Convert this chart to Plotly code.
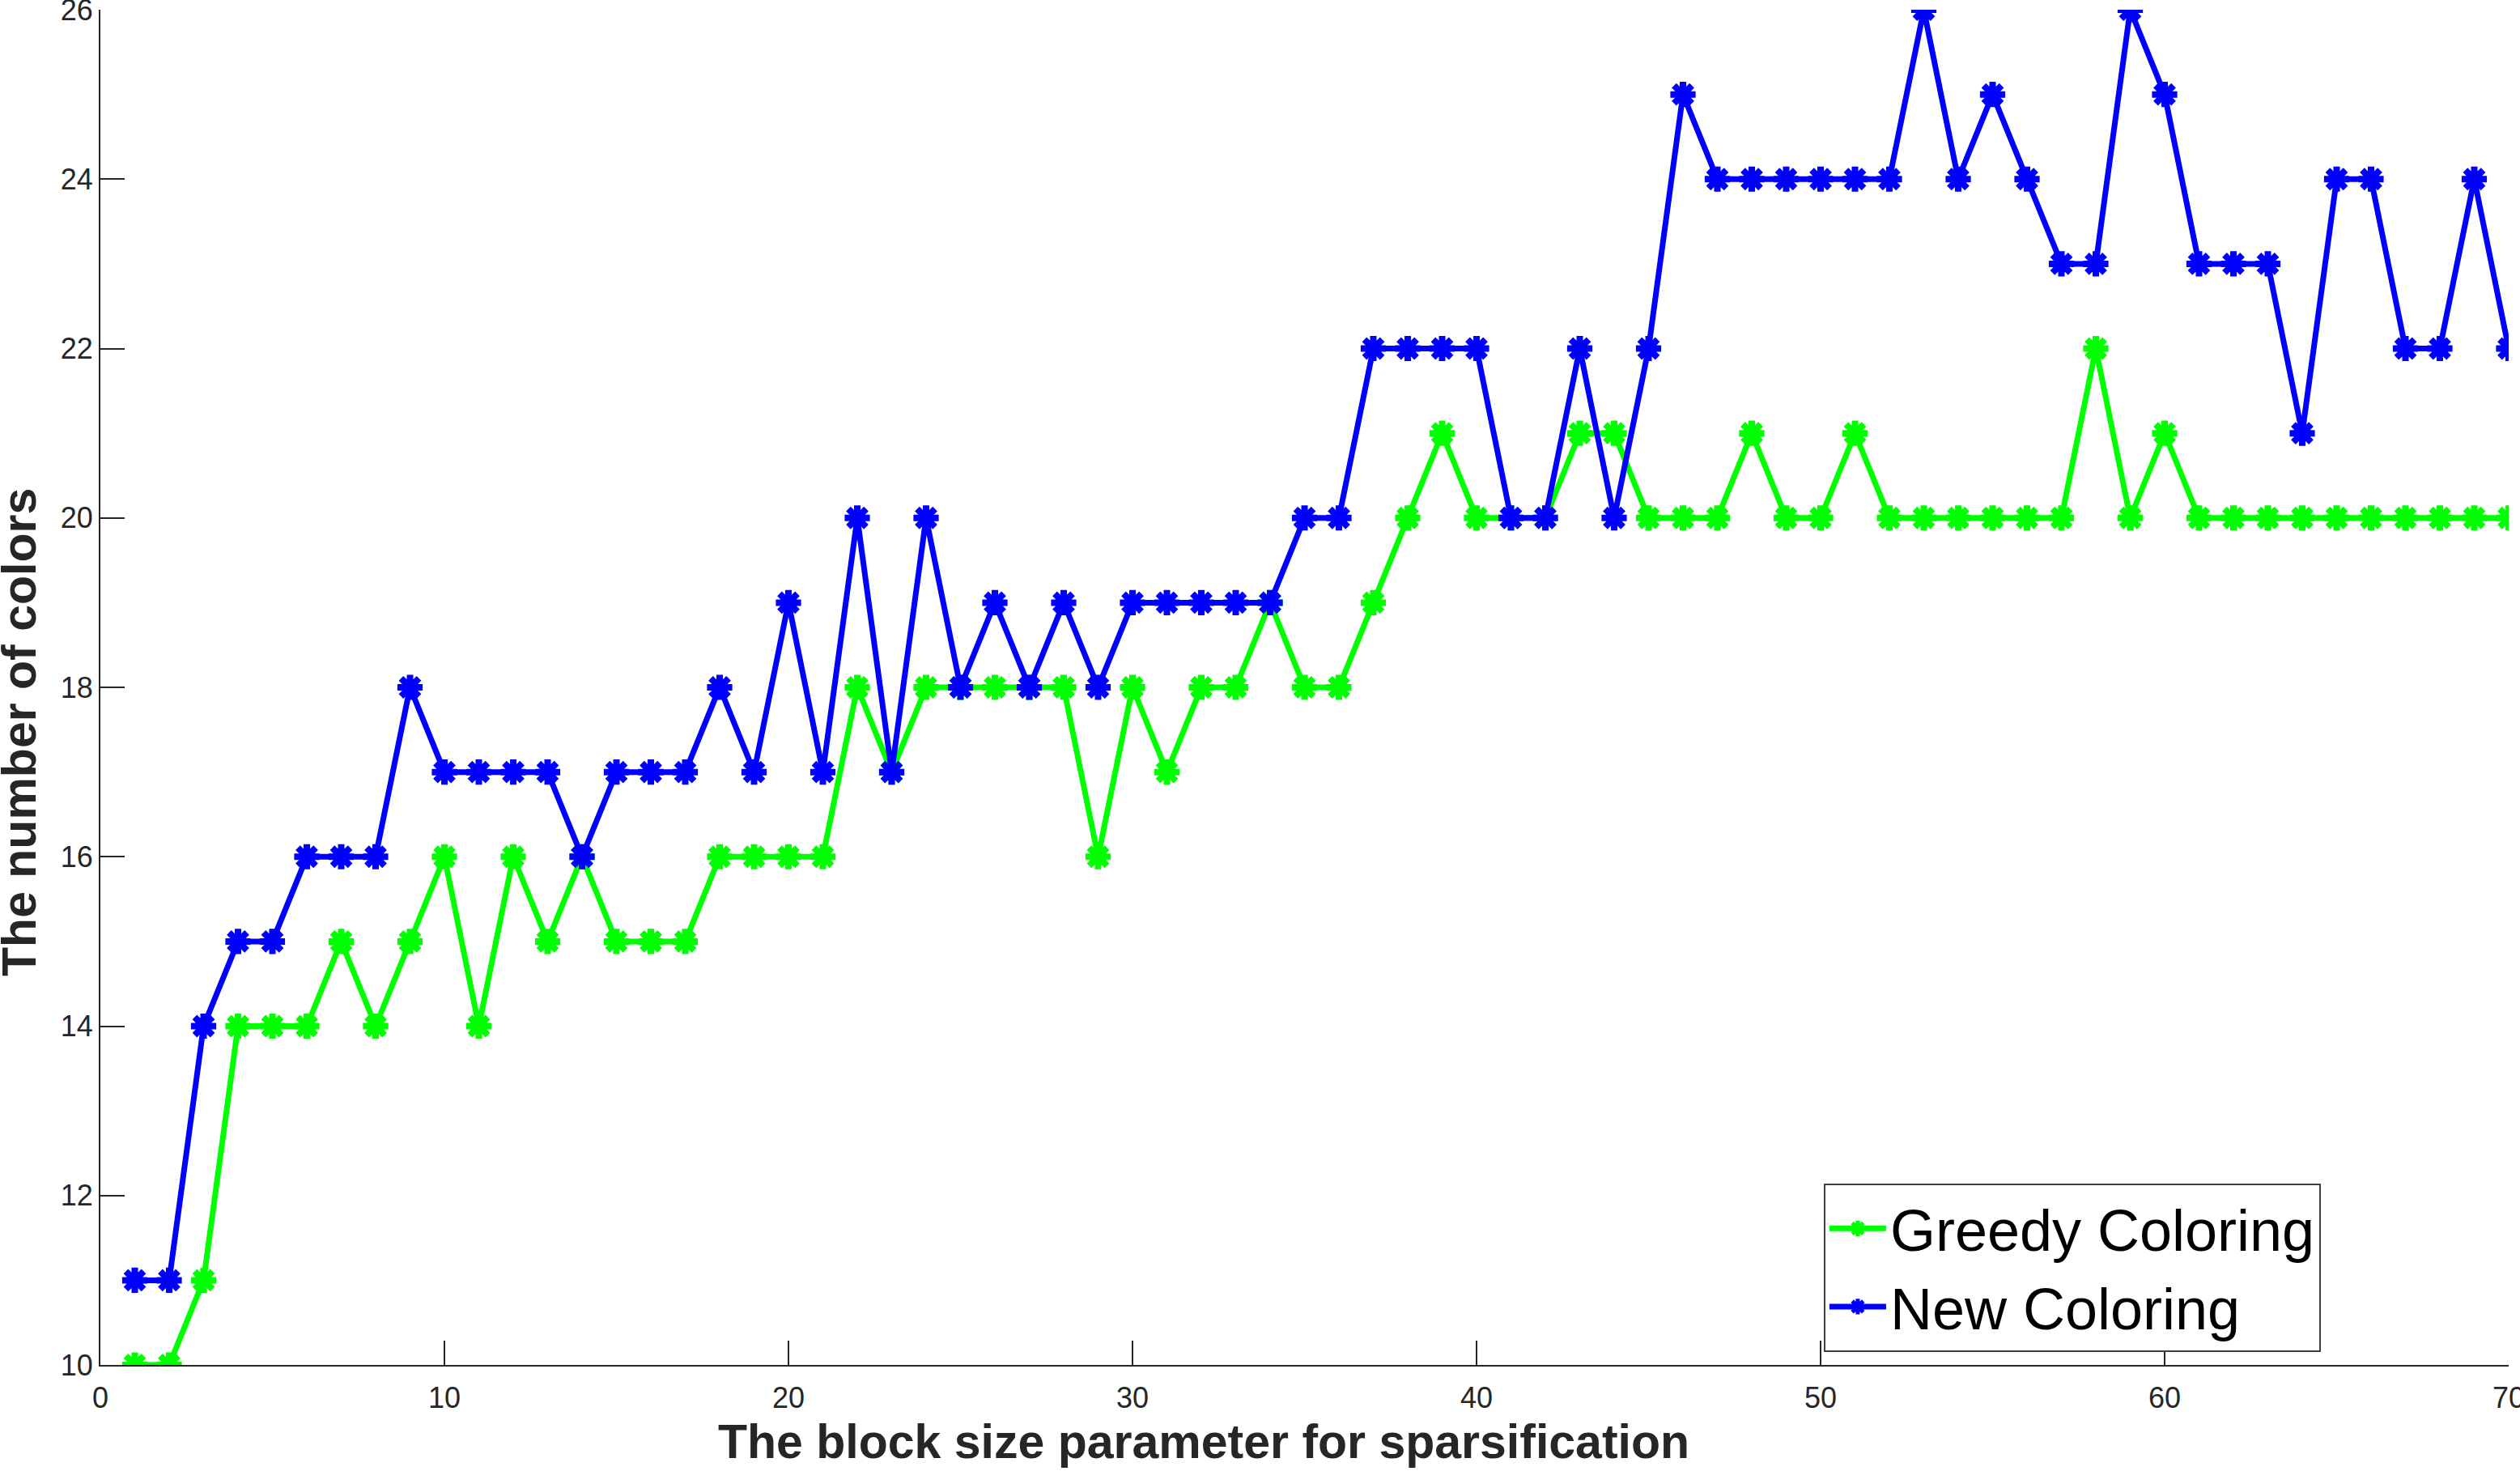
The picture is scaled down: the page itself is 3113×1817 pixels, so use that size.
import plotly.graph_objects as go

block_size = list(range(1, 71))

greedy_colors = [10, 10, 11, 14, 14, 14, 15, 14, 15, 16,
                 14, 16, 15, 16, 15, 15, 15, 16, 16, 16,
                 16, 18, 17, 18, 18, 18, 18, 18, 16, 18,
                 17, 18, 18, 19, 18, 18, 19, 20, 21, 20,
                 20, 20, 21, 21, 20, 20, 20, 21, 20, 20,
                 21, 20, 20, 20, 20, 20, 20, 22, 20, 21,
                 20, 20, 20, 20, 20, 20, 20, 20, 20, 20]

new_colors = [11, 11, 14, 15, 15, 16, 16, 16, 18, 17,
              17, 17, 17, 16, 17, 17, 17, 18, 17, 19,
              17, 20, 17, 20, 18, 19, 18, 19, 18, 19,
              19, 19, 19, 19, 20, 20, 22, 22, 22, 22,
              20, 20, 22, 20, 22, 25, 24, 24, 24, 24,
              24, 24, 26, 24, 25, 24, 23, 23, 26, 25,
              23, 23, 23, 21, 24, 24, 22, 22, 24, 22]

x_ticks = [0, 10, 20, 30, 40, 50, 60, 70]
y_ticks = [10, 12, 14, 16, 18, 20, 22, 24, 26]

font_name = 'Liberation Sans, Arial'
axis_color = '#262626'

fig = go.Figure()
fig.add_trace(go.Scatter(x=block_size, y=greedy_colors,
                         name='Greedy Coloring',
                         mode='lines+markers',
                         line=dict(color='#00ff00', width=7),
                         marker=dict(symbol='asterisk-open', size=26,
                                     line=dict(color='#00ff00', width=8))))
fig.add_trace(go.Scatter(x=block_size, y=new_colors,
                         name='New Coloring',
                         mode='lines+markers',
                         line=dict(color='#0000ff', width=7),
                         marker=dict(symbol='asterisk-open', size=26,
                                     line=dict(color='#0000ff', width=8))))

fig.update_layout(
    width=3113, height=1817,
    margin=dict(l=124, r=14, t=12, b=131),
    paper_bgcolor='white',
    plot_bgcolor='white',
    font=dict(family=font_name, color=axis_color),
    showlegend=True,
    legend=dict(
        x=0.7156, y=0.1338, xanchor='left', yanchor='top',
        bgcolor='white', bordercolor='#404040', borderwidth=2,
        font=dict(family=font_name, size=72, color='black'),
        tracegroupgap=0, itemwidth=70,
    ),
)
fig.update_xaxes(
    range=[0, 70], tickvals=x_ticks,
    showgrid=False, zeroline=False, automargin=False,
    showline=True, linecolor=axis_color, linewidth=2,
    ticks='inside', ticklen=30, tickwidth=2, tickcolor=axis_color,
    tickfont=dict(size=36, color=axis_color),
    ticklabelstandoff=8, ticklabeloverflow='allow',
)
fig.update_yaxes(
    range=[10, 26], tickvals=y_ticks,
    showgrid=False, zeroline=False, automargin=False,
    showline=True, linecolor=axis_color, linewidth=2,
    ticks='inside', ticklen=30, tickwidth=2, tickcolor=axis_color,
    tickfont=dict(size=36, color=axis_color),
    ticklabelstandoff=0, ticklabeloverflow='allow',
)

# axis titles sit off-centre in the original, so place them by hand
fig.add_annotation(text='<b>The block size parameter for sparsification</b>',
                   xref='paper', yref='paper', x=0.4582, y=-0.0567,
                   xanchor='center', yanchor='middle', showarrow=False,
                   font=dict(size=59, color=axis_color))
fig.add_annotation(text='<b>The number of colors</b>',
                   xref='paper', yref='paper', x=-0.0336, y=0.4666,
                   xanchor='center', yanchor='middle', showarrow=False,
                   textangle=-90,
                   font=dict(size=59, color=axis_color))

# drop the default page margin so the figure sits at the window corner
fig.write_html("out.html", config={'displayModeBar': False},
               post_script="document.body.style.margin = '0';")
